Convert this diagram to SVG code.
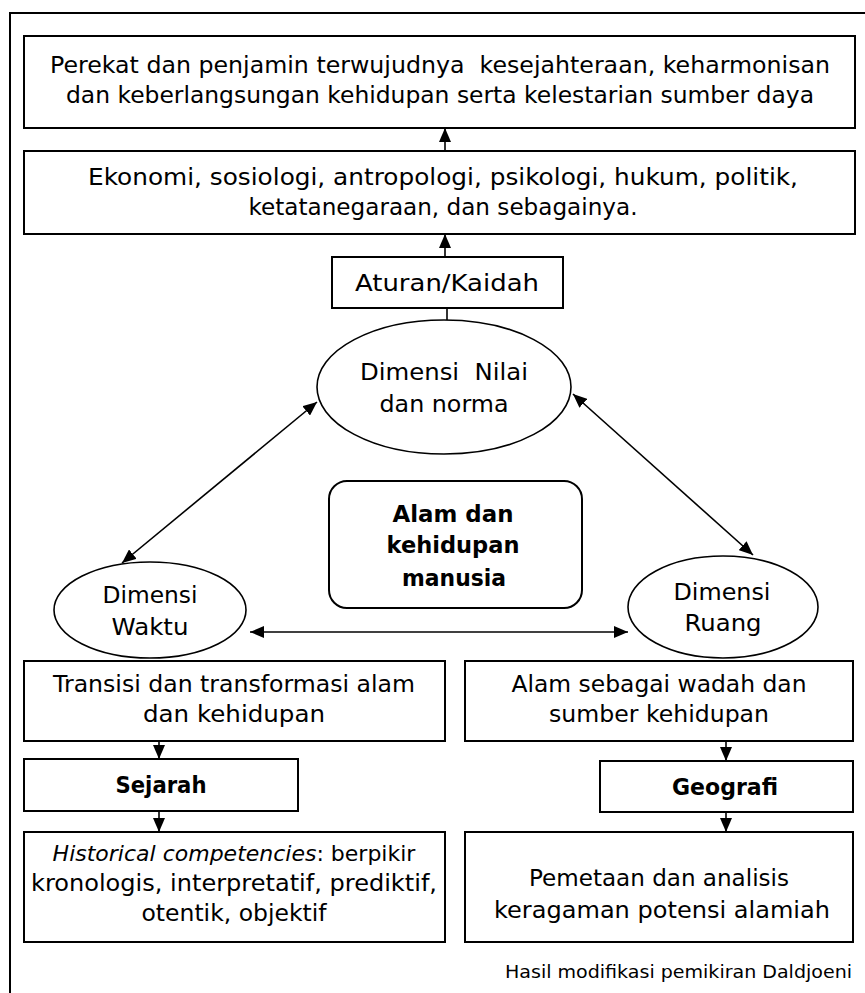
<svg xmlns="http://www.w3.org/2000/svg" width="865" height="993" viewBox="0 0 865 993">
<style>
.box{fill:#fff;stroke:#000;stroke-width:2}
.ell{fill:#fff;stroke:#000;stroke-width:1.6}
.t{font-family:"DejaVu Sans","Liberation Sans",sans-serif;font-size:23px;fill:#000;text-anchor:middle}
.b{font-weight:bold}
.cap{font-family:"DejaVu Sans","Liberation Sans",sans-serif;font-size:17px;fill:#000;text-anchor:end}
.c{stroke:#000;stroke-width:1.6;fill:none}
</style>
<defs>
<marker id="ah" viewBox="0 0 14 12" refX="14" refY="6" markerWidth="14" markerHeight="12" markerUnits="userSpaceOnUse" orient="auto-start-reverse">
<path d="M0,0 L14,6 L0,12 z" fill="#000"/>
</marker>
</defs>
<rect x="10" y="13" width="880" height="1000" fill="#fff" stroke="#000" stroke-width="2"/>

<g id="connectors">
<line class="c" x1="445" y1="151" x2="445" y2="128" marker-end="url(#ah)"/>
<line class="c" x1="445" y1="257" x2="445" y2="234" marker-end="url(#ah)"/>
<line class="c" x1="447" y1="308" x2="447" y2="320"/>
<line class="c" x1="122" y1="563" x2="317" y2="402" marker-start="url(#ah)" marker-end="url(#ah)"/>
<line class="c" x1="573" y1="394" x2="753" y2="555" marker-start="url(#ah)" marker-end="url(#ah)"/>
<line class="c" x1="250" y1="632" x2="628" y2="632" marker-start="url(#ah)" marker-end="url(#ah)"/>
<line class="c" x1="159" y1="741" x2="159" y2="759" marker-end="url(#ah)"/>
<line class="c" x1="159" y1="811" x2="159" y2="832" marker-end="url(#ah)"/>
<line class="c" x1="726" y1="741" x2="726" y2="761" marker-end="url(#ah)"/>
<line class="c" x1="726" y1="812" x2="726" y2="832" marker-end="url(#ah)"/>
</g>

<g id="top">
<rect class="box" x="24" y="36" width="831" height="92"/>
<text class="t" x="440" y="73" textLength="780" lengthAdjust="spacingAndGlyphs" xml:space="preserve">Perekat dan penjamin terwujudnya  kesejahteraan, keharmonisan</text>
<text class="t" x="440" y="103" textLength="748" lengthAdjust="spacingAndGlyphs">dan keberlangsungan kehidupan serta kelestarian sumber daya</text>
</g>

<g id="ekonomi">
<rect class="box" x="24" y="151" width="831" height="83"/>
<text class="t" x="443" y="185" textLength="710" lengthAdjust="spacingAndGlyphs">Ekonomi, sosiologi, antropologi, psikologi, hukum, politik,</text>
<text class="t" x="443" y="215" textLength="389" lengthAdjust="spacingAndGlyphs">ketatanegaraan, dan sebagainya.</text>
</g>

<g id="aturan">
<rect class="box" x="332" y="257" width="231" height="51"/>
<text class="t" x="447" y="291" textLength="184" lengthAdjust="spacingAndGlyphs">Aturan/Kaidah</text>
</g>

<g id="nilai">
<ellipse class="ell" cx="444" cy="387" rx="127" ry="67"/>
<text class="t" x="444" y="380" textLength="168" lengthAdjust="spacingAndGlyphs" xml:space="preserve">Dimensi  Nilai</text>
<text class="t" x="444" y="412" textLength="129" lengthAdjust="spacingAndGlyphs">dan norma</text>
</g>

<g id="alam">
<rect class="box" x="329" y="481" width="253" height="127" rx="18" ry="18"/>
<text class="t b" x="453" y="522" textLength="121" lengthAdjust="spacingAndGlyphs">Alam dan</text>
<text class="t b" x="453" y="553" textLength="133" lengthAdjust="spacingAndGlyphs">kehidupan</text>
<text class="t b" x="454" y="586" textLength="104" lengthAdjust="spacingAndGlyphs">manusia</text>
</g>

<g id="waktu">
<ellipse class="ell" cx="150" cy="610" rx="96" ry="48"/>
<text class="t" x="150" y="603" textLength="95" lengthAdjust="spacingAndGlyphs">Dimensi</text>
<text class="t" x="150" y="635" textLength="77" lengthAdjust="spacingAndGlyphs">Waktu</text>
</g>

<g id="ruang">
<ellipse class="ell" cx="723" cy="607" rx="95" ry="51"/>
<text class="t" x="722" y="600" textLength="97" lengthAdjust="spacingAndGlyphs">Dimensi</text>
<text class="t" x="723" y="631" textLength="77" lengthAdjust="spacingAndGlyphs">Ruang</text>
</g>

<g id="transisi">
<rect class="box" x="24" y="661" width="421" height="80"/>
<text class="t" x="234" y="692" textLength="362" lengthAdjust="spacingAndGlyphs">Transisi dan transformasi alam</text>
<text class="t" x="234" y="722" textLength="182" lengthAdjust="spacingAndGlyphs">dan kehidupan</text>
</g>

<g id="wadah">
<rect class="box" x="465" y="661" width="388" height="80"/>
<text class="t" x="659" y="692" textLength="295" lengthAdjust="spacingAndGlyphs">Alam sebagai wadah dan</text>
<text class="t" x="659" y="722" textLength="220" lengthAdjust="spacingAndGlyphs">sumber kehidupan</text>
</g>

<g id="sejarah">
<rect class="box" x="24" y="759" width="274" height="52"/>
<text class="t b" x="161" y="793" textLength="91" lengthAdjust="spacingAndGlyphs">Sejarah</text>
</g>

<g id="geografi">
<rect class="box" x="600" y="761" width="253" height="51"/>
<text class="t b" x="725" y="795" textLength="106" lengthAdjust="spacingAndGlyphs">Geografi</text>
</g>

<g id="historical">
<rect class="box" x="24" y="832" width="421" height="110"/>
<text class="t" x="234" y="861" style="font-size:22px"><tspan font-style="italic">Historical competencies</tspan>: berpikir</text>
<text class="t" x="234" y="891" textLength="406" lengthAdjust="spacingAndGlyphs">kronologis, interpretatif, prediktif,</text>
<text class="t" x="234" y="921" textLength="185" lengthAdjust="spacingAndGlyphs">otentik, objektif</text>
</g>

<g id="pemetaan">
<rect class="box" x="465" y="832" width="388" height="110"/>
<text class="t" x="659" y="886" textLength="260" lengthAdjust="spacingAndGlyphs">Pemetaan dan analisis</text>
<text class="t" x="662" y="918" textLength="336" lengthAdjust="spacingAndGlyphs">keragaman potensi alamiah</text>
</g>

<g id="caption">
<text class="cap" x="852" y="978" textLength="347" lengthAdjust="spacingAndGlyphs">Hasil modifikasi pemikiran Daldjoeni</text>
</g>
</svg>
